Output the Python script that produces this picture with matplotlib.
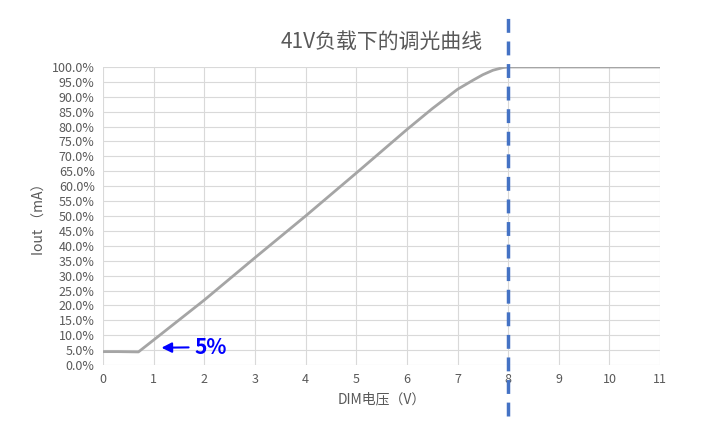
import matplotlib
matplotlib.use("Agg")
import matplotlib.pyplot as plt
from matplotlib.ticker import MultipleLocator, FuncFormatter

plt.rcParams['font.family'] = ['Noto Sans CJK SC', 'DejaVu Sans']

# DIM voltage (V) vs Iout (% of full)
dim_v = [0, 0.3, 0.7, 1.0, 2.0, 3.0, 4.0, 5.0, 6.0, 6.5, 7.0, 7.3, 7.5, 7.7, 7.9, 8.0, 9.0, 10.0, 11.0]
iout_pct = [4.5, 4.5, 4.4, 8.4, 21.8, 36.0, 50.0, 64.4, 79.0, 86.0, 92.5, 95.5, 97.4, 98.9, 99.8, 100.0, 100.0, 100.0, 100.0]
dash_x = 8
label_color = '#595959'

fig = plt.figure(figsize=(7.03, 4.32), dpi=100)
ax = fig.add_axes([0.1465, 0.155, 0.7925, 0.69])

ax.plot(dim_v, iout_pct, color='#a5a5a5', lw=2)
ax.plot([dash_x, dash_x], [-17, 119], color='#4472c4', lw=2.5,
        ls=(0, (4, 2.5)), clip_on=False, zorder=5)

ax.set_xlim(0, 11)
ax.set_ylim(0, 100)
ax.xaxis.set_major_locator(MultipleLocator(1))
ax.yaxis.set_major_locator(MultipleLocator(5))
ax.yaxis.set_major_formatter(FuncFormatter(lambda v, p: f"{v:.1f}%"))
ax.grid(True, color='#d9d9d9', lw=0.8)
ax.set_axisbelow(True)
for s in ax.spines.values():
    s.set_visible(False)
ax.tick_params(length=0, labelsize=9, colors=label_color, pad=6)

ax.set_title("41V负载下的调光曲线", fontsize=15, color=label_color, pad=14)
ax.set_xlabel("DIM电压（V）", fontsize=10, color=label_color)
ax.set_ylabel("Iout （mA）", fontsize=10, color=label_color)

ax.annotate("5%", xy=(1.1, 5.8), xytext=(1.8, 6.0), fontsize=15,
            fontweight='bold', color='#0000ff', va='center',
            arrowprops=dict(arrowstyle='-|>', color='#0000ff', lw=1.5))

fig.savefig("out.png")
